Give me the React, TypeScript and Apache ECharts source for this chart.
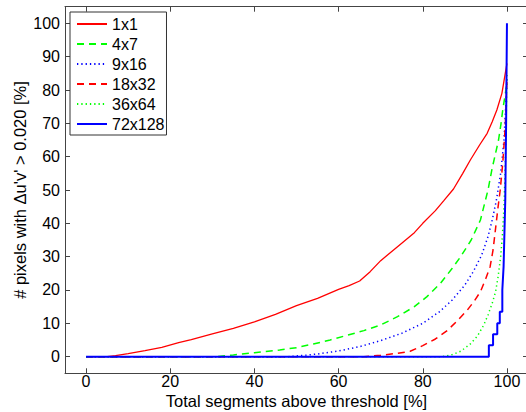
import React, { useEffect, useRef } from "react";
import * as echarts from "echarts";

const seriesNames = ["1x1", "4x7", "9x16", "18x32", "36x64", "72x128"];

const s1x1: [number, number][] = [
  [0, 0], [5, 0], [7, 0.3], [10, 0.9], [14, 1.8], [18, 2.8], [22, 4.2], [25, 5.1], [30, 6.8],
  [35, 8.5], [40, 10.4], [45, 12.7], [50, 15.3], [55, 17.5], [60, 20.2], [62.5, 21.3], [65, 22.7],
  [67.5, 25.5], [70, 28.8], [74, 33], [78, 37.2], [80, 40], [83, 43.8], [85, 46.8], [87.3, 50.3],
  [89.5, 55], [91.3, 59], [93.5, 63.5], [95.3, 67], [96.5, 70.5], [97.6, 74], [98.8, 79],
  [99.6, 85], [100, 88],
];
const s4x7: [number, number][] = [
  [0, 0], [31, 0], [35, 0.5], [40, 1.2], [46, 2], [50, 2.7], [54, 3.8], [58, 5], [62, 6.4],
  [66, 7.8], [70, 9.5], [74, 12], [78, 15], [81, 18], [84.2, 22], [87, 26.5], [89, 30],
  [91.5, 35], [93.7, 41], [94.5, 45], [95.5, 50], [96.4, 56], [97.2, 60.5], [98, 65],
  [98.6, 70], [99, 74], [99.5, 78], [100, 82],
];
const s9x16: [number, number][] = [
  [0, 0], [48, 0], [52, 0.4], [55, 0.8], [60, 1.7], [65, 3], [70, 4.8], [75, 7], [80, 10],
  [84, 13.5], [87, 17], [90, 21.5], [92, 25.5], [94, 30.5], [95.5, 36], [96.5, 41],
  [97.5, 47], [98.5, 55], [99.3, 65], [99.7, 75], [100, 84],
];
const s18x32: [number, number][] = [
  [0, 0], [66, 0], [70, 0.4], [74, 1], [77, 1.6], [80, 3.3], [83, 5.3], [85.8, 7.8],
  [88, 10.5], [90.6, 14], [92.3, 16.8], [93.7, 19.5], [95, 23.5], [96, 27], [96.7, 32],
  [97.3, 38.5], [97.8, 44], [98.4, 50], [99, 58], [99.6, 69], [99.8, 76], [100, 83],
];
const s36x64: [number, number][] = [
  [0, 0], [84.6, 0], [87, 0.6], [89, 1.6], [91.3, 3.8], [93, 6.2], [94.5, 9.5], [95.5, 12.5],
  [96.5, 16], [97.3, 19.5], [97.9, 24], [98.5, 30], [98.9, 36], [99.3, 45], [99.6, 57],
  [99.8, 70], [100, 85],
];
const s72x128: [number, number][] = [
  [0, 0], [95.7, 0], [95.7, 3.4], [96.7, 3.4], [96.7, 6.7], [97.7, 6.7], [97.7, 10],
  [98.3, 10], [98.3, 13.5], [98.9, 13.5], [98.9, 20], [99.2, 27], [99.6, 47], [99.8, 70],
  [100, 100],
];

const xTicks = [0, 20, 40, 60, 80, 100];
const yTicks = [0, 10, 20, 30, 40, 50, 60, 70, 80, 90, 100];

const FONT = "Liberation Sans, Arial, Helvetica, sans-serif";
const AXIS_COLOR = "#444";

export default function App() {
  const ref = useRef<HTMLDivElement>(null);
  useEffect(() => {
    document.body.style.margin = "0";
    if (!ref.current) return;
    const chart = echarts.init(ref.current, undefined, { renderer: "svg" });
    const styles = [
      { color: "#ff0000", type: "solid", width: 1.3 },
      { color: "#00ff00", type: [7, 5], width: 1.5 },
      { color: "#0000ff", type: [1.3, 3], width: 1.5 },
      { color: "#ff0000", type: [7, 5], width: 1.5 },
      { color: "#00ff00", type: [1.3, 3], width: 1.5 },
      { color: "#0000ff", type: "solid", width: 2 },
    ];
    const datas = [s1x1, s4x7, s9x16, s18x32, s36x64, s72x128];
    const baseAxis = {
      axisLine: { show: true, onZero: false, lineStyle: { color: AXIS_COLOR, width: 1 } },
      splitLine: { show: false },
    };
    const option: any = {
      animation: false,
      backgroundColor: "#fff",
      textStyle: { fontFamily: FONT },
      grid: {
        left: 65,
        top: 6.7,
        width: 463,
        height: 366.6,
        containLabel: false,
        outerBoundsMode: "none",
      },
      legend: {
        show: true,
        orient: "vertical",
        left: 70,
        top: 12,
        data: seriesNames,
        itemWidth: 30,
        itemHeight: 14,
        itemGap: 4,
        padding: [4, 2, 3, 6],
        borderColor: "#333",
        borderWidth: 1,
        backgroundColor: "#fff",
        itemStyle: { opacity: 0 },
        textStyle: { fontSize: 16, color: "#000", fontFamily: FONT, lineHeight: 16 },
      },
      xAxis: [
        {
          ...baseAxis,
          type: "value",
          min: -5,
          max: 105,
          position: "bottom",
          name: "Total segments above threshold [%]",
          nameLocation: "middle",
          nameGap: 19,
          nameMoveOverlap: false,
          nameTextStyle: { fontSize: 16.5, color: "#000", fontFamily: FONT },
          axisTick: { show: true, inside: true, length: 5, customValues: xTicks, lineStyle: { color: AXIS_COLOR } },
          axisLabel: { show: true, margin: 0, fontSize: 16, color: "#000", fontFamily: FONT, customValues: xTicks },
        },
        {
          ...baseAxis,
          type: "value",
          min: -5,
          max: 105,
          position: "top",
          axisTick: { show: true, inside: true, length: 5, customValues: xTicks, lineStyle: { color: AXIS_COLOR } },
          axisLabel: { show: false },
        },
      ],
      yAxis: [
        {
          ...baseAxis,
          type: "value",
          min: -5,
          max: 105,
          position: "left",
          name: "# pixels with \u0394u'v' > 0.020 [%]",
          nameLocation: "middle",
          nameGap: 37,
          nameMoveOverlap: false,
          nameTextStyle: { fontSize: 16.5, color: "#000", fontFamily: FONT },
          axisTick: { show: true, inside: true, length: 5, customValues: yTicks, lineStyle: { color: AXIS_COLOR } },
          axisLabel: { show: true, margin: 5, fontSize: 16, color: "#000", fontFamily: FONT, customValues: yTicks },
        },
        {
          ...baseAxis,
          type: "value",
          min: -5,
          max: 105,
          position: "right",
          axisTick: { show: true, inside: true, length: 5, customValues: yTicks, lineStyle: { color: AXIS_COLOR } },
          axisLabel: { show: false },
        },
      ],
      series: seriesNames.map((name, i) => ({
        name,
        type: "line",
        data: datas[i],
        xAxisIndex: 0,
        yAxisIndex: 0,
        showSymbol: false,
        symbol: "none",
        smooth: false,
        color: styles[i].color,
        lineStyle: { color: styles[i].color, width: styles[i].width, type: styles[i].type },
        z: 2 + i,
      })),
    };
    chart.setOption(option);
    return () => chart.dispose();
  }, []);
  return (
    <div
      ref={ref}
      style={{ position: "absolute", left: 0, top: 0, width: 526, height: 412 }}
    />
  );
}
